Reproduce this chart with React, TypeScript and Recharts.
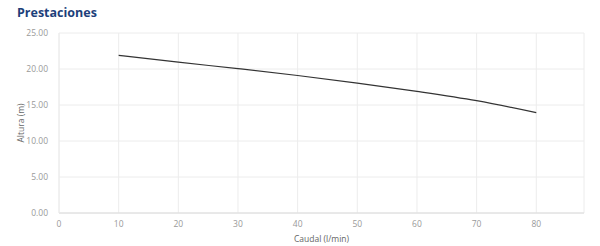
import { LineChart, Line, XAxis, YAxis, CartesianGrid } from 'recharts';

const caudal = [10, 20, 30, 40, 50, 60, 70, 80];
const altura = [21.9, 20.95, 20.05, 19.1, 18.05, 16.9, 15.6, 13.95];
const xTicks = [0, 10, 20, 30, 40, 50, 60, 70, 80];
const yTicks = [0, 5, 10, 15, 20, 25];

const data = caudal.map((c, i) => ({ caudal: c, altura: altura[i] }));

const FONT = '"Open Sans", sans-serif';

export default function App() {
  return (
    <div style={{ position: 'absolute', left: 0, top: 0, width: 600, height: 246, background: '#fff', fontFamily: FONT }}>
      {/* título */}
      <div style={{ position: 'absolute', left: 17, top: 4, fontSize: 12.5, fontWeight: 700, color: '#1d3f7a' }}>
        Prestaciones
      </div>
      <LineChart width={600} height={246} data={data} margin={{ top: 33, right: 16, bottom: 0, left: 0 }}>
        <CartesianGrid stroke="#ececec" strokeWidth={1} />
        <XAxis
          type="number"
          dataKey="caudal"
          domain={[0, 88]}
          ticks={xTicks}
          height={33}
          tickLine={false}
          axisLine={{ stroke: '#dcdcdc' }}
          tick={{ fontSize: 8.5, fill: '#999', fontFamily: FONT }}
          tickMargin={2}
          label={{ value: 'Caudal (l/min)', position: 'insideBottom', offset: 4, fontSize: 8.5, fill: '#666', fontFamily: FONT }}
        />
        <YAxis
          type="number"
          domain={[0, 25]}
          ticks={yTicks}
          width={59}
          tickLine={false}
          axisLine={{ stroke: '#ececec' }}
          tick={{ fontSize: 8.5, fill: '#999', fontFamily: FONT }}
          tickFormatter={(v: number) => v.toFixed(2)}
          tickMargin={5}
          label={{ value: 'Altura (m)', angle: -90, position: 'insideLeft', offset: 21, fontSize: 8.5, fill: '#666', fontFamily: FONT, style: { textAnchor: 'middle' } }}
        />
        <Line type="monotone" dataKey="altura" stroke="#333" strokeWidth={1.2} dot={false} isAnimationActive={false} />
      </LineChart>
    </div>
  );
}
